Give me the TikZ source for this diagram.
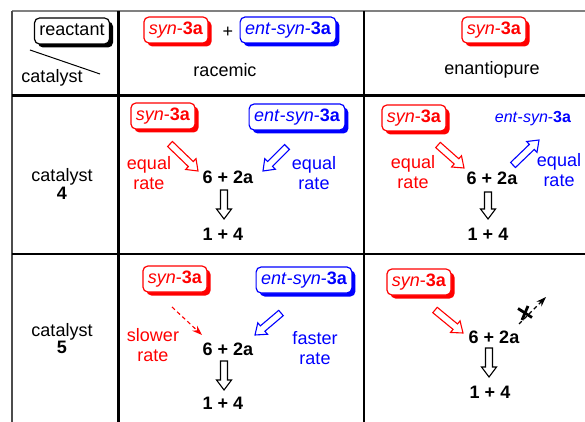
\documentclass[tikz,border=0pt]{standalone}
\usepackage{fontspec}
\setmainfont{Liberation Sans}
\usetikzlibrary{shadows,calc,arrows.meta}

\definecolor{pured}{RGB}{255,0,0}
\definecolor{publue}{RGB}{0,0,255}

\tikzset{
  txt/.style={font=\fontsize{18}{20}\selectfont, inner sep=0pt, align=center},
  prod/.style={txt, font=\fontsize{18}{20}\selectfont\bfseries},
  tag/.style={draw=#1, text=#1, fill=white, rounded corners=5pt, line width=1.2pt,
    inner xsep=5pt, inner ysep=4.5pt, text height=13pt, text depth=4pt,
    font=\fontsize{18}{20}\selectfont,
    general shadow={fill=#1, shadow xshift=3.5pt, shadow yshift=-3.5pt}},
  rule/.style={line width=#1},
  dasharrow/.style={line width=1.1pt, dash pattern=on 4pt off 3pt, -{Stealth[length=10pt,width=7pt]}},
}

\newcommand\harrow[3]{%
  \coordinate (hH) at ($(#3)!10pt!(#2)$);
  \draw[#1, fill=white, line width=1.1pt, line join=miter]
    ($(#2)!3.5pt!90:(#3)$) -- ($(hH)!3.5pt!90:(#3)$) -- ($(hH)!7.5pt!90:(#3)$) -- (#3)
    -- ($(hH)!7.5pt!-90:(#3)$) -- ($(hH)!3.5pt!-90:(#3)$) -- ($(#2)!3.5pt!-90:(#3)$) -- cycle;
}

\begin{document}
\begin{tikzpicture}[x=1pt,y=-1pt]
\useasboundingbox (0,0) rectangle (585,422);

% table rules
\draw[rule=1.5pt, gray] (12,11) -- (585,11);
\draw[rule=1.5pt, gray!60!black] (12,11) -- (12,422);
\draw[rule=3.5pt] (118.5,11) -- (118.5,422);
\draw[rule=2.5pt] (364,11) -- (364,422);
\draw[rule=3.5pt] (12,95.5) -- (585,95.5);
\draw[rule=2.5pt] (12,254) -- (585,254);

% header corner
\node[tag=black] (reactant) at (72,31) {reactant};
\coordinate (dg1) at (30,50);
\coordinate (dg2) at (100,74);
\draw[line width=1pt] (dg1) -- (dg2);
\node[txt] (cat) at (52,78) {catalyst};

% header racemic
\node[tag=pured] (hsyn) at (176,30) {\textit{syn}-\textbf{3a}};
\node[txt] (hplus) at (228,32) {+};
\node[tag=publue] (hent) at (288,30) {\textit{ent}-\textit{syn}-\textbf{3a}};
\node[txt] (hrac) at (225,70) {racemic};

% header enantiopure
\node[tag=pured] (hsyn2) at (494,30) {\textit{syn}-\textbf{3a}};
\node[txt] (henan) at (492,70) {enantiopure};

% row labels
\node[txt, font=\fontsize{18}{18}\selectfont] (c4) at (62,184) {catalyst\\\textbf{4}};
\node[txt, font=\fontsize{18}{17}\selectfont] (c5) at (62,339) {catalyst\\\textbf{5}};

% row 1 racemic
\node[tag=pured] (s1) at (163,116) {\textit{syn}-\textbf{3a}};
\node[tag=publue] (e1) at (297,117) {\textit{ent}-\textit{syn}-\textbf{3a}};
\node[txt, text=pured] (eq1) at (149,173) {equal\\rate};
\node[prod] (p1) at (228,177) {6 + 2a};
\node[txt, text=publue] (eq2) at (314,173) {equal\\rate};
\node[prod] (q1) at (223,234) {1 + 4};
\coordinate (a1s) at (170,144); \coordinate (a1e) at (198,171);
\coordinate (a2s) at (287,147); \coordinate (a2e) at (263,171);
\coordinate (a3s) at (224,190); \coordinate (a3e) at (224,219);
\harrow{pured}{a1s}{a1e}
\harrow{publue}{a2s}{a2e}
\harrow{black}{a3s}{a3e}

% row 1 enantiopure
\node[tag=pured] (s2) at (414,118) {\textit{syn}-\textbf{3a}};
\node[txt, text=publue, font=\fontsize{16}{18}\selectfont] (e2) at (533,119) {\textit{ent}-\textit{syn}-\textbf{3a}};
\node[txt, text=pured] (eq3) at (413,172) {equal\\rate};
\node[prod] (p2) at (492,178) {6 + 2a};
\node[txt, text=publue] (eq4) at (559,170) {equal\\rate};
\node[prod] (q2) at (488,234) {1 + 4};
\coordinate (b1s) at (438,145); \coordinate (b1e) at (464,168);
\coordinate (b2s) at (513,165); \coordinate (b2e) at (539,140);
\coordinate (b3s) at (488,192); \coordinate (b3e) at (488,219);
\harrow{pured}{b1s}{b1e}
\harrow{publue}{b2s}{b2e}
\harrow{black}{b3s}{b3e}

% row 2 racemic
\node[tag=pured] (s3) at (175,279) {\textit{syn}-\textbf{3a}};
\node[tag=publue] (e3) at (304,280) {\textit{ent}-\textit{syn}-\textbf{3a}};
\node[txt, text=pured] (sl) at (153,345) {slower\\rate};
\node[prod] (p3) at (228,349) {6 + 2a};
\node[txt, text=publue] (fa) at (315,348) {faster\\rate};
\node[prod] (q3) at (223,403) {1 + 4};
\coordinate (c1s) at (172,307); \coordinate (c1e) at (202,335);
\coordinate (c2s) at (281,313); \coordinate (c2e) at (255,335);
\coordinate (c3s) at (224,361); \coordinate (c3e) at (224,390);
\draw[dasharrow, pured] (c1s) -- (c1e);
\harrow{publue}{c2s}{c2e}
\harrow{black}{c3s}{c3e}

% row 2 enantiopure
\node[tag=pured] (s4) at (419,282) {\textit{syn}-\textbf{3a}};
\node[prod] (p4) at (494,337) {6 + 2a};
\node[prod] (q4) at (490,392) {1 + 4};
\coordinate (d1s) at (435,310); \coordinate (d1e) at (463,333);
\coordinate (d2s) at (519,324); \coordinate (d2e) at (546,297);
\coordinate (d3s) at (489,348); \coordinate (d3e) at (489,377);
\coordinate (xc) at (525,313);
\harrow{pured}{d1s}{d1e}
\draw[dasharrow, black] (d2s) -- (d2e);
\draw[line width=2.8pt] ($(xc)+(-7,-4.5)$) -- ($(xc)+(7,4.5)$);
\draw[line width=2.8pt] ($(xc)+(-3,7)$) -- ($(xc)+(3,-7)$);
\harrow{black}{d3s}{d3e}
\end{tikzpicture}
\end{document}
